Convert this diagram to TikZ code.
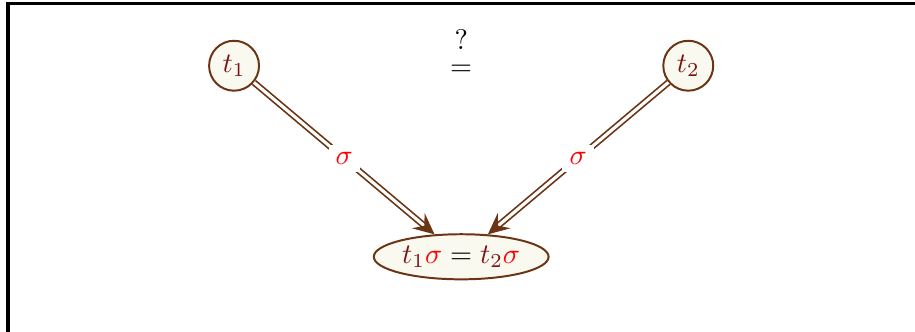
\documentclass[tikz,border=0pt]{standalone}
\usepackage{xcolor}
\usepackage{tikz}
\usetikzlibrary{arrows.meta, shapes.geometric}
\definecolor{kbrown}{HTML}{6B3414}
\definecolor{kcream}{HTML}{FAF9EF}
\definecolor{kmaroon}{HTML}{7A1414}

\begin{document}
\begin{tikzpicture}[x=1cm, y=1cm,
  termnode/.style={circle, draw=kbrown, fill=kcream, line width=0.7pt, text=kmaroon, minimum size=0.62cm, inner sep=0pt},
  eqnode/.style={ellipse, draw=kbrown, fill=kcream, line width=0.7pt, text=kmaroon, minimum width=2.17cm, minimum height=0.56cm, inner sep=0pt},
  substarrow/.style={draw=kbrown, double, double distance=1.1pt, line width=0.6pt, -{Stealth[length=7.5pt, width=7pt, inset=2.8pt]}},
  sublabel/.style={fill=white, text=red, inner sep=2.5pt}]
\useasboundingbox (0,0) rectangle (11.36,4.12);
\draw[line width=1.1pt] (0.10,0) -- (0.10,4.08) -- (11.36,4.08);
\node[termnode] (t1) at (2.906,3.304) {$t_1$};
\node[termnode] (t2) at (8.545,3.304) {$t_2$};
\node[align=center, inner sep=0pt] (unif) at (5.726,3.47) {?\\[-3pt]$=$};
\node[eqnode] (eq) at (5.726,0.932) {$t_1{\color{red}\sigma} \mathrel{\color{black}=} t_2{\color{red}\sigma}$};
\draw[substarrow] (t1) -- node[sublabel] (s1) {$\sigma$} (eq);
\draw[substarrow] (t2) -- node[sublabel] (s2) {$\sigma$} (eq);
\end{tikzpicture}
\end{document}
